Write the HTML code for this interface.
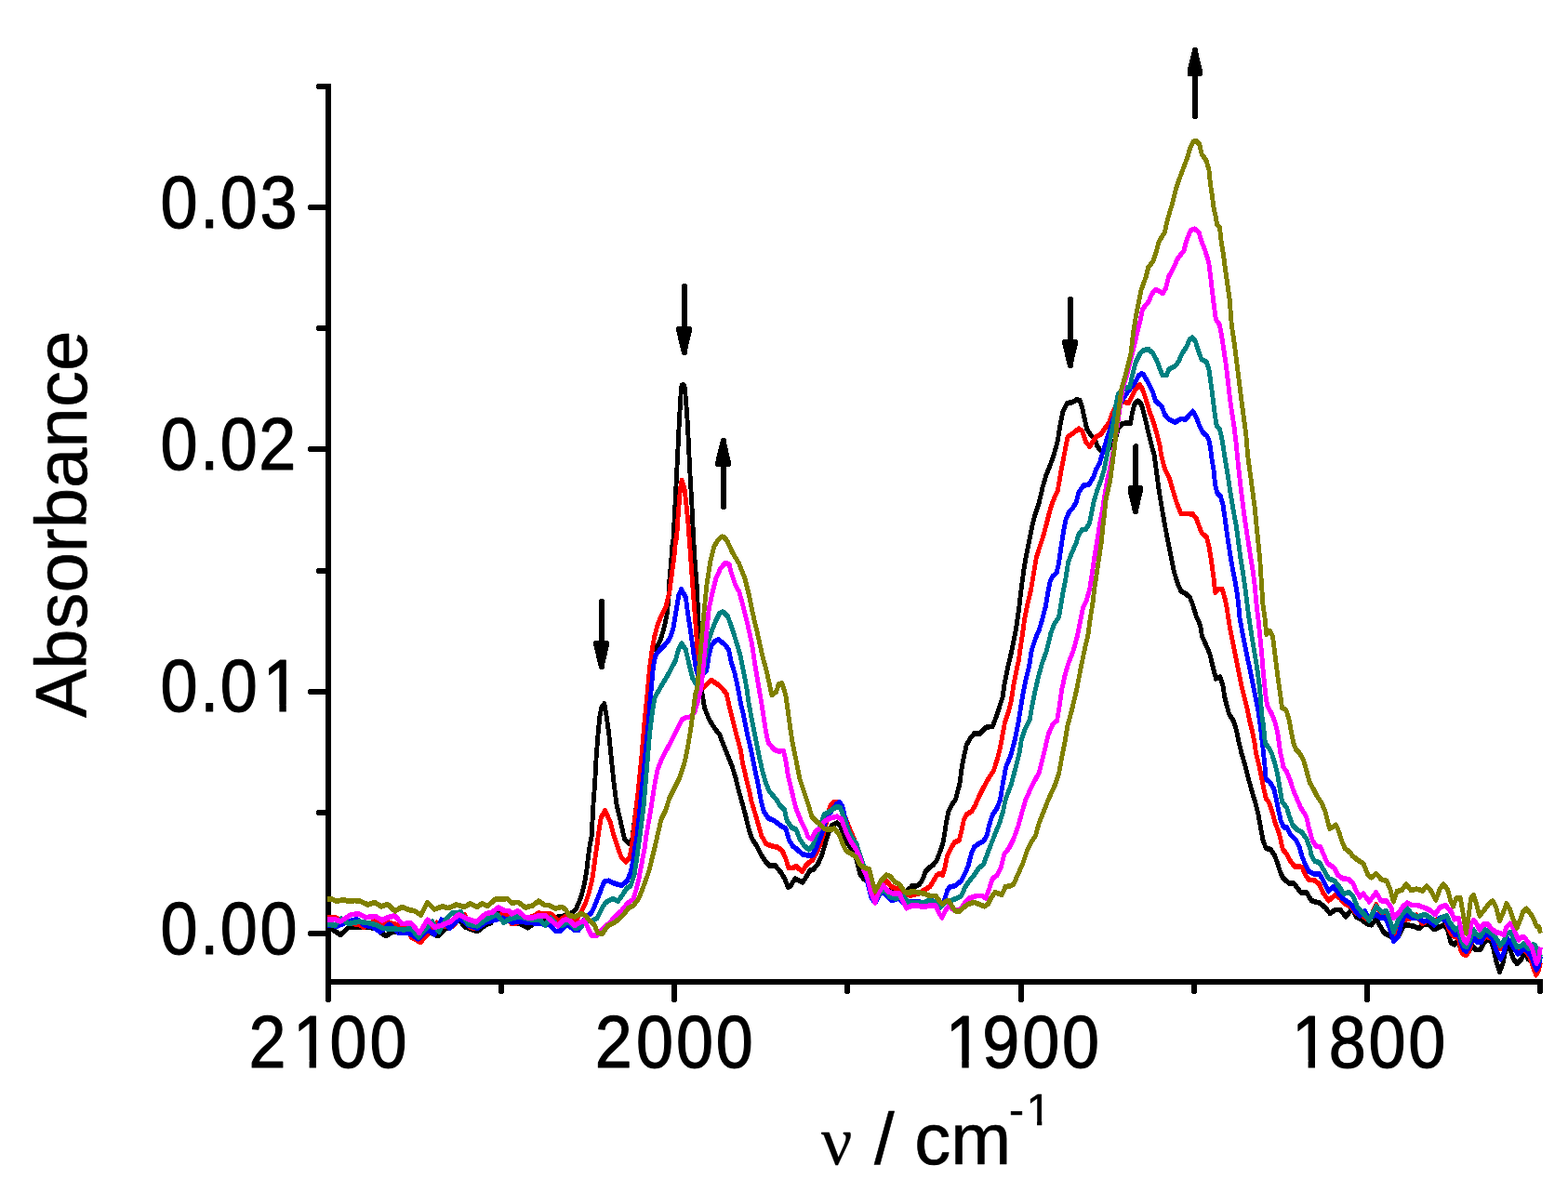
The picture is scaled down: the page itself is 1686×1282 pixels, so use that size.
<!DOCTYPE html>
<html lang="en"><head><meta charset="utf-8"><title>Absorbance spectrum</title>
<style>html,body{margin:0;padding:0;background:#fff;}body{width:1686px;height:1282px;overflow:hidden;}svg{display:block;}text{font-family:"Liberation Sans",Arial,Helvetica,sans-serif;fill:#000;stroke:#000;stroke-width:1.1px;stroke-linejoin:round;white-space:pre;}</style></head><body>
<svg width="1686" height="1282" viewBox="0 0 1686 1282">
<rect width="1686" height="1282" fill="#ffffff"/>
<g fill="#000" shape-rendering="crispEdges">
<rect x="350" y="90" width="6" height="980"/>
<rect x="350" y="1053" width="1309" height="6"/>
<rect x="331" y="1001" width="24" height="6" rx="2.4"/>
<rect x="340" y="871" width="15" height="6" rx="2.4"/>
<rect x="331" y="741" width="24" height="6" rx="2.4"/>
<rect x="340" y="611" width="15" height="6" rx="2.4"/>
<rect x="331" y="480" width="24" height="6" rx="2.4"/>
<rect x="340" y="350" width="15" height="6" rx="2.4"/>
<rect x="331" y="220" width="24" height="6" rx="2.4"/>
<rect x="340" y="90" width="15" height="6" rx="2.4"/>
<rect x="350" y="1053" width="6" height="25" rx="2.4"/>
<rect x="536" y="1053" width="6" height="16" rx="2.4"/>
<rect x="722" y="1053" width="6" height="25" rx="2.4"/>
<rect x="908" y="1053" width="6" height="16" rx="2.4"/>
<rect x="1095" y="1053" width="6" height="25" rx="2.4"/>
<rect x="1281" y="1053" width="6" height="16" rx="2.4"/>
<rect x="1467" y="1053" width="6" height="25" rx="2.4"/>
<rect x="1653" y="1053" width="6" height="16" rx="2.4"/>
</g>
<g transform="scale(0.85,1)" fill="none" stroke-width="5.7" stroke-linejoin="round" stroke-linecap="butt" shape-rendering="crispEdges">
<polyline stroke="#000000" points="414,996 420.59,999.8 430.82,1005.4 441.06,997.3 454.24,996.7 473.29,997.9 488,1006.6 496.71,1002.3 505.53,1001 517.29,998.5 523.18,1007.3 531.88,1012.2 543.65,1002.3 553.88,1006.6 564.12,998.5 572.94,994.8 580.24,988.6 587.65,996.7 603.76,1001.7 614,994.8 621.29,992.3 630.12,980.5 637.41,986.1 646.24,992.3 647.06,992.2 655.88,992.8 667.53,997.8 676.35,992.8 691.06,987.2 711.53,985.9 717.41,982.8 723.29,982.2 729.06,977.2 734.94,964.8 739.41,949.8 742.35,934.9 744.47,918.7 746.71,906.2 748.35,900 750.59,864.8 752.71,839.8 754.24,814.9 756.47,789.9 758.59,771.2 760.82,761.2 764.47,756.8 767.41,771.2 770.35,789.9 773.29,814.9 776.24,839.8 779.88,864.8 785.06,883.5 789.41,900 789.88,902.5 795.06,906.9 799.41,905 807.06,852.3 811.53,814.9 815.18,777.4 818.12,752.5 824.94,698.5 829.29,698.5 835.18,688.6 839.53,677.3 843.65,661.1 845.88,642.4 846.94,623.7 848.94,605 850.47,586.2 851.76,580 854.24,540.4 855.88,512.3 857.53,484.2 859.06,456.1 860,442.1 860.94,428.1 861.76,417.5 862.59,414.3 865.41,414.3 866.24,417.1 867.41,428.1 868.71,442.1 869.88,456.1 871.41,484.2 873.06,512.3 875.06,540.4 877.29,580 879.18,605 881.41,629.9 882.82,654.9 884.35,679.8 885.06,698.5 888.24,746.2 891.18,761.2 897.06,773.7 904.35,783.7 910.24,789.9 914.59,799.9 920.47,812.4 926.35,824.9 930.82,837.3 935.18,852.3 942.59,875 947.06,891.2 950.71,901.2 957.29,909.9 963.18,919.9 969.06,927.4 973.41,931.1 980.82,931.1 988.12,938.6 992.47,944.9 996.94,954.2 999.88,953 1005.76,944.9 1011.65,947.3 1015.29,949.2 1020.35,942.4 1024.82,936.1 1029.18,934.9 1035.06,928.6 1039.53,919.9 1043.88,907.4 1048.35,894.9 1052.71,887.5 1058.59,885 1062.94,888.7 1067.41,897.4 1071.76,906.2 1077.65,913.7 1082.12,919.9 1085.06,929.9 1087.88,939.9 1092.35,944.9 1096.71,947.3 1099.65,954.8 1102.59,963.6 1107.06,968.6 1114.35,959.8 1123.18,958.6 1130.47,957.3 1137.88,958.6 1146.71,958.6 1152.59,954.2 1152.94,953 1158.82,953 1163.18,951.1 1167.65,944.9 1170.59,937.4 1174.94,933.6 1180.82,929.9 1185.29,924.9 1189.65,914.9 1192.59,907.4 1194.82,897.4 1196.94,885 1199.88,872.5 1203.53,866.2 1208.71,860 1213.88,843.5 1216.82,824.8 1219.76,812.3 1222.71,801.1 1227.76,793.6 1232.94,788.6 1239.53,789.2 1246.94,782.4 1255.65,781.1 1260.12,771.1 1264.47,759.9 1268.24,749.9 1270.35,737.4 1273.29,725 1276.24,712.5 1279.88,700 1285.18,677.3 1288.94,654.8 1291.88,633.6 1294.82,614.9 1297.65,599.9 1302.12,581.2 1305.76,565 1310.24,551.2 1314.59,540 1319.06,523.5 1323.41,511 1329.29,498.5 1333.76,487.3 1338.12,473.6 1341.06,457.4 1344.71,442.4 1349.88,433.7 1357.18,432.4 1361.65,429.9 1366,430.5 1368.94,438.6 1371.88,449.9 1374.82,461.1 1379.29,467.3 1385.06,472.3 1388,479.8 1392.47,484.8 1398.35,486.1 1405.65,479.8 1411.53,471.1 1414.47,461.1 1418.82,456.1 1424.71,454.9 1429.88,455.5 1432.12,444.9 1435.06,434.9 1439.41,431.2 1443.88,434.9 1448.24,448.6 1452.59,464.9 1457.06,479.8 1460.24,490 1463.18,508.7 1466.12,527.4 1469.76,546.2 1473.53,564.9 1477.88,583.6 1481.53,599.8 1485.18,614.8 1489.65,627.3 1494,636 1499.88,638.5 1505.06,642.2 1508.71,650 1513.18,662.5 1518.35,672.5 1520.47,683.7 1524.94,692.4 1530.12,702.4 1532.94,712.4 1535.88,722.4 1538.12,729.9 1543.29,728 1546.94,737.3 1549.18,749.8 1552.12,759.8 1555.06,768.5 1560.12,774.8 1563.88,784.8 1566,793.5 1568.24,802.2 1570.47,810 1574.94,822.5 1579.29,837.5 1583.76,851.2 1588.12,863.7 1591.76,876.1 1594.71,889.9 1597.65,903.6 1601.41,912.3 1607.29,913.6 1612.35,919.8 1616,928.5 1619.76,938.5 1623.41,944.8 1630.71,949.8 1636.59,949.8 1641.06,954.7 1645.41,959.7 1647.06,959.9 1652.94,959.9 1658.82,968.6 1669.06,971.1 1676.35,976 1682.24,982.3 1689.53,978.5 1695.41,978.5 1702.71,986 1710.12,977.3 1715.88,986 1721.76,988.5 1729.06,993.5 1734.94,994.7 1740.82,988.5 1746.71,997.2 1751.06,1003.4 1756.94,1005.9 1762.82,1009.7 1768.71,1007.2 1774.59,997.2 1778.94,994.7 1787.76,996 1795.06,998.5 1802.35,993.5 1808.24,994.7 1814.12,999.7 1820,997.2 1827.29,994.7 1831.65,1001 1835.29,1013.9 1839.65,1015.8 1844.12,1012.1 1847.41,1019.6 1851.76,1024.2 1855.06,1026.1 1858.47,1022.4 1862.82,1017.7 1867.18,1021.4 1872.71,1021.4 1877.18,1013.9 1881.53,1011.1 1886,1012.1 1889.29,1020.5 1892.59,1033.6 1896.94,1045.3 1901.41,1035.5 1905.76,1016.8 1910.24,1021.4 1914.59,1031.7 1918.94,1036.4 1924.47,1031.7 1928.94,1024.2 1933.29,1031.7 1937.76,1033.6 1941.06,1041.1 1943.76,1045.8 1947.65,1041.1"/>
<polyline stroke="#ff0000" points="414,987.3 423.53,986.7 430.82,989.8 441.06,992.3 455.76,994.8 460.12,997.3 474.82,989.8 485.06,993.6 492.35,992.3 502.59,994.8 517.29,999.8 520.24,1007.9 531.88,1013.5 540.71,1004.8 552.47,992.3 558.24,996 572.94,996 578.82,989.8 587.65,983.6 594.94,997.3 602.24,998.5 614,987.3 624.24,986.1 636,983.6 641.76,984.2 647.06,993.4 651.41,993.4 661.76,989.7 676.35,984.7 680.71,982.2 691.06,982.8 698.35,983.4 706.35,990.9 714.47,985.9 723.29,987.8 729.06,989.7 734.94,981 740.82,971 745.18,959.8 749.65,943.6 752.59,924.9 755.53,907.5 756.47,900 760.12,879.8 765.18,871.6 771.88,883.5 776.94,900 781.88,912.5 786.24,922.4 791.41,926.8 796.47,922.4 799.41,910 800.47,900 807.06,852.3 811.53,814.9 815.18,777.4 818.12,752.5 819.53,740 822,717.3 824.94,698.5 827.88,684.8 832.24,671.1 836.59,662.4 842.47,652.4 846.94,636.2 849.88,617.4 852.82,598.7 854.94,580 855.88,580 857.88,554.4 860.47,526.3 862.47,516.5 865.76,524.9 867.88,540.4 870.35,561.4 872,580 874.12,605 876.24,629.9 878.47,654.9 880.71,679.8 882.12,698.5 883.29,711 886.59,741 890.94,738.5 899.76,731.6 908.59,736.6 913.18,740 919.06,746.2 923.41,762.5 927.88,777.4 932.24,792.4 936.71,806.1 939.53,821.1 944,837.3 948.35,852.3 950,860 954.35,872.5 958.71,885 963.18,898.7 969.06,907.4 976.35,909.9 983.76,911.2 989.53,914.9 994,923.6 997.65,933.6 1002.82,933.6 1007.18,931.7 1014.59,937.4 1020.35,929.9 1027.76,924.9 1033.65,916.2 1038,907.4 1042.47,894.9 1046.82,878.7 1049.76,867.5 1054.12,863.1 1060,863.1 1068.82,878.7 1079.18,899.9 1087.88,919.9 1093.76,934.9 1099.65,947.3 1105.53,962.3 1114.35,954.8 1121.65,947.3 1127.53,953.6 1134.94,956.1 1142.24,961.1 1151.06,962.9 1152.94,962.9 1161.76,961.1 1169.06,957.3 1176.47,953.6 1180.82,947.3 1185.29,941.1 1188.12,939.9 1192.59,941.1 1195.53,932.4 1198.47,919.9 1202.82,912.4 1207.29,906.2 1213.18,903.7 1216.12,894.9 1219.06,882.5 1222.71,876.2 1229.29,872.5 1233.65,866.2 1236.59,860 1244,847.2 1251.29,836 1257.18,828.5 1260.82,818.5 1264.47,807.3 1266.71,797.3 1268.94,787.3 1271.06,777.4 1275.53,766.1 1279.18,753.7 1282.12,737.4 1285.76,721.2 1288.71,710 1290.24,700 1293.29,683.5 1296.24,664.8 1299.88,649.8 1304.35,633.6 1308,614.9 1310.94,599.9 1314.59,589.9 1318.94,578.7 1323.41,565 1327.06,552.5 1331.41,540 1338.12,527.2 1342.59,504.8 1346.94,486.1 1350.59,469.8 1357.18,466.1 1364.59,461.1 1368.94,463.6 1373.41,474.8 1378.47,480.4 1383.65,473.6 1386.59,469.8 1392.47,467.3 1398.35,459.9 1402.71,454.9 1405.65,447.4 1410.12,439.9 1414.47,434.9 1420.35,432.4 1427.65,433 1432.12,426.2 1436.47,418.7 1441.65,413.7 1445.29,418.7 1449.76,429.9 1454.12,442.4 1458.47,452.4 1462.94,464.9 1467.29,479.8 1469.06,490 1472.71,502.5 1479.41,515 1483.76,527.4 1488.12,539.9 1494,552.4 1501.41,552.4 1508.71,553 1513.18,557.4 1517.53,567.4 1520.47,573.6 1526.35,577.3 1529.29,587.3 1532.24,602.3 1535.18,621 1537.29,637.2 1541.06,633.5 1546.12,633.5 1549.06,642.2 1551.29,650 1553.53,662.5 1555.76,675 1558.71,687.4 1561.65,699.9 1564.59,712.4 1567.53,724.9 1570.47,737.3 1574.12,749.8 1577.76,762.3 1580.71,774.8 1584.35,787.3 1587.29,799.7 1588.82,810 1592.59,822.5 1595.53,835 1598.47,847.4 1601.41,858.7 1605.76,863.7 1609.41,873.6 1613.06,884.9 1617.53,894.9 1620.47,904.8 1622.71,913.6 1627.76,918.6 1632.24,926 1638.12,932.3 1645.41,932.3 1647.06,932.5 1651.41,941.2 1655.88,946.2 1663.18,946.8 1669.06,951.1 1673.41,959.9 1680.71,968.6 1689.53,962.3 1695.41,966.1 1701.29,972.3 1708.59,974.8 1715.88,982.3 1723.29,984.8 1732,989.7 1740.82,972.9 1746.71,982.3 1752.59,984.8 1758.47,997.2 1762.82,1009.7 1768.71,999.7 1774.59,989.7 1780.35,988.5 1786.24,987.3 1792.12,984.1 1799.41,993.5 1805.29,989.7 1812.59,991 1820,988.5 1827.29,987.3 1833.18,999.7 1835.29,1003.7 1839.65,1007.4 1845.18,1008.3 1847.41,1020.5 1850.71,1026.1 1854.59,1027.5 1858.47,1023.3 1862.82,1010.2 1868.35,1011.1 1873.88,1012.1 1879.29,1007.4 1884.82,1008.3 1892.59,1014.9 1898.12,1020.5 1902.47,1016.8 1908,1012.1 1914.59,1016.8 1921.18,1022.4 1930,1022.4 1935.53,1029.9 1938.82,1039.2 1943.18,1048.6 1946.47,1043 1948.71,1035.5"/>
<polyline stroke="#0000ff" points="414,994.8 426.47,996 441.06,991.1 451.29,988.6 461.53,995.4 470.35,996 480.59,1002.3 492.35,994.2 504.12,1003.5 517.29,1003.5 528.94,1009.7 540.71,999.8 549.53,1004.8 558.24,989.2 568.59,998.5 577.29,991.1 581.76,987.3 592,994.8 603.76,998.5 614,992.3 624.24,989.8 636,987.3 646.24,991.1 647.06,992.2 655.88,990.9 669.06,992.2 683.65,993.4 695.41,994.7 702.71,1001.5 708.59,1001.5 717.41,993.4 726.24,1000.3 732,1000.3 740.82,985.9 748.12,982.2 752.59,973.5 758.47,961 764.24,948 770.12,947.3 776,949.8 786.24,952.3 793.53,947.3 798,937.4 800.94,924.9 803.06,912.5 805.65,900 810,864.8 814.47,827.3 817.29,802.4 820.24,777.4 822.47,752.5 824,740 826.35,717.3 829.29,704.8 835.18,698.5 841.06,693.6 846.94,687.3 851.29,677.3 855.76,654.9 858.71,639.9 861.88,633.7 867.41,642.4 870.35,661.1 874.82,686.1 877.76,704.8 880.71,721 885.06,729.7 893.88,721 896.82,704.8 899.76,694.8 904.12,689.8 908.59,687.9 915.88,692.3 921.76,698.5 924.71,711 929.18,723.5 933.53,740 936.71,755 941.06,771.2 945.41,789.9 949.88,806.1 954.24,824.9 958.71,842.3 962.47,860 966.12,872.5 972,880 979.29,882.5 986.59,887.5 994,891.2 998.35,903.7 1002.82,909.9 1008.71,913.7 1014.59,918.6 1021.88,919.9 1027.76,919.9 1033.65,909.9 1039.53,897.4 1043.88,885 1049.76,875 1057.06,866.2 1061.53,862.5 1065.88,867.5 1068.82,878.7 1073.29,892.4 1077.65,901.2 1083.53,907.4 1086.47,916.2 1090.82,927.4 1095.29,939.9 1098.24,952.3 1102.59,966.1 1107.06,971.1 1111.41,963.6 1115.88,958.6 1121.65,963.6 1127.53,968.6 1136.35,966.1 1143.76,972.3 1152.59,969.8 1152.94,970.4 1160.24,969.8 1169.06,971.1 1177.88,968.6 1186.71,971.1 1191.06,974.8 1195.53,966.1 1198.47,957.3 1201.41,954.2 1208.71,952.3 1216.12,947.3 1220.47,939.9 1224.82,931.1 1228.59,918.6 1232.24,911.2 1238.12,907.4 1244,904.9 1248.35,898.7 1251.29,887.5 1255.65,876.2 1261.53,868.7 1265.29,860 1268.94,841 1272.59,824.8 1279.18,811.1 1283.65,796.1 1288,778.6 1290.94,762.4 1293.88,747.4 1298.24,728.7 1302,716.2 1304.82,700 1310.24,686 1314.59,677.3 1318.94,664.8 1322.71,652.3 1325.65,637.3 1328.59,624.9 1331.41,619.9 1336.59,616.1 1339.53,604.9 1342.47,587.4 1345.41,571.2 1348.35,558.7 1352,551.2 1357.18,546.2 1361.53,540 1364.59,529.7 1370.47,522.3 1377.76,521 1383.65,512.3 1386.59,504.8 1390.94,498.5 1393.88,489.8 1398.35,477.3 1404.24,461.1 1408.59,449.9 1414.47,437.4 1421.76,427.4 1429.18,418.7 1435.06,412.4 1440.12,404.3 1444.59,401.8 1447.06,403.6 1452.94,412.4 1458.12,421.1 1461.76,431.1 1469.76,437.3 1473.53,446 1478.59,451 1486.71,454.2 1494,450.4 1499.88,451 1508.71,442.3 1513.18,448.5 1517.53,458.5 1521.18,464.8 1526.35,468.5 1529.29,473.5 1531.41,482.2 1532.24,490 1535.18,505 1537.29,521.2 1539.53,529.9 1544,533.7 1546.94,542.4 1549.76,558.6 1552.71,577.3 1555.65,593.6 1558.59,608.5 1562.35,624.8 1565.18,639.7 1566.71,650 1568.24,665 1571.88,681.2 1575.53,697.4 1579.29,712.4 1582.94,727.4 1585.88,739.8 1588.82,752.3 1591.76,764.8 1593.88,777.3 1596.12,793.5 1598.35,810 1599.88,822.5 1601.41,837.5 1607.29,842.4 1611.65,848.7 1614.59,859.9 1617.53,872.4 1620.47,883.6 1624.12,889.9 1627.76,889.9 1632.24,897.3 1639.53,903.6 1643.88,911.1 1647.06,921.2 1651.41,930 1655.88,937.4 1661.76,939.9 1669.06,939.9 1674.94,948.6 1680.71,958.6 1686.59,953.6 1692.47,959.9 1698.35,966.1 1708.59,972.3 1714.47,979.8 1720.35,984.8 1726.24,979.8 1732,987.3 1740.82,983.5 1746.71,987.3 1752.59,987.3 1758.47,999.7 1762.82,1012.2 1768.71,1007.2 1773.06,992.2 1777.41,983.5 1786.24,987.3 1793.53,987.3 1800.94,991 1806.82,989.7 1814.12,994.7 1821.41,987.3 1828.71,989.7 1834.59,998.5 1835.29,998 1840.82,1005.5 1845.18,1003.7 1848.47,1014.9 1851.76,1021.4 1855.06,1023.3 1859.53,1015.8 1863.88,1008.3 1868.35,1013 1873.88,1013 1878.24,1005.5 1882.71,1004.6 1887.06,1008.3 1892.59,1021.4 1898.12,1031.7 1902.47,1024.2 1906.82,1009.3 1911.29,1014.9 1915.65,1020.5 1920.12,1026.1 1925.65,1022.4 1928.94,1019.6 1933.29,1024.2 1937.76,1029.9 1941.06,1038.3 1943.76,1043 1946.47,1038.3 1948.71,1028.9"/>
<polyline stroke="#008080" points="414,993.6 423.53,995.4 431.53,988 441.06,993.6 454.24,991.1 467.41,992.9 476.24,994.8 485.06,998.5 499.65,999.2 511.41,999.8 520.24,998.5 528.94,1007.9 539.29,998.5 546.59,991.1 555.41,1002.3 564.12,988.6 571.53,982.3 583.18,981.1 592,993.6 603.76,996 615.41,988.6 628.59,983.6 637.41,992.3 646.24,987.3 647.06,987.8 655.88,985.9 664.59,987.2 673.41,989.1 683.65,989.7 689.53,995.3 696.82,987.2 705.65,995.9 712.94,994.7 718.82,990.9 727.65,998.4 734.94,997.1 740.82,990.9 749.65,990.3 755.53,987.2 761.29,977.2 765.76,971 774.59,966.6 781.88,969.1 787.76,962.3 792.12,956 798,952.3 802.35,941.1 805.29,924.9 808.24,906.2 809.29,900 814.47,864.8 818.12,827.3 821.76,789.9 825.41,765 828.35,750 834.94,740 844,727.2 854.24,711 858.71,697.3 862.35,692.3 867.41,698.5 871.88,714.8 876.24,729.7 880.71,736 885.06,737.2 889.53,723.5 892.47,704.8 895.41,692.3 899.76,679.8 905.65,667.3 910,659.9 914.47,658 920.35,662.4 926.24,676.1 932.12,692.3 936.47,704.8 940.82,723.5 944.59,740 946.94,755 951.29,774.9 955.76,793.7 960.12,812.4 964.59,829.8 968.94,842.3 973.29,851.1 982.24,860 986.59,866.2 992.47,871.2 995.41,882.5 1001.29,889.9 1007.18,892.4 1011.65,902.4 1017.53,909.9 1023.29,913.7 1027.76,909.9 1032.12,899.9 1038,887.5 1042.47,876.2 1049.76,872.5 1058.59,867.5 1062.94,868.7 1067.41,878.7 1073.29,892.4 1077.65,901.2 1083.53,907.4 1086.47,916.2 1090.82,927.4 1095.29,937.4 1099.65,952.3 1104.12,964.8 1108.47,966.1 1114.35,958.6 1120.24,958.6 1126.12,964.8 1133.41,966.1 1142.24,963.6 1148.12,969.8 1152.94,971.1 1167.65,971.1 1174.94,968.6 1182.35,969.8 1189.65,976 1194,971.1 1202.82,968.6 1210.24,966.1 1216.12,963.6 1220.47,954.8 1226.35,947.3 1232.24,941.1 1238.12,933.6 1244,929.9 1248.35,919.9 1252.82,909.9 1258.59,897.4 1264.47,885 1268.94,872.5 1271.88,860 1279.18,843.5 1285.06,824.8 1289.41,809.8 1292.35,794.8 1296.82,783.6 1302.71,773.6 1305.65,758.6 1309.29,743.7 1313.65,727.5 1318.12,713.7 1324,700 1329.29,681 1333.65,671 1339.53,663.5 1341.76,652.3 1344.71,637.3 1348.35,621.1 1351.29,604.9 1355.65,594.9 1361.53,583.7 1364.47,574.9 1368.94,569.9 1373.29,569.3 1377.76,563.7 1380.71,552.5 1383.53,540 1388,527.2 1392.47,517.3 1396.82,504.8 1399.76,492.3 1404.24,473.6 1408.59,454.9 1411.53,436.2 1414.47,423.7 1423.29,417.4 1429.18,416.2 1432.12,405 1436.47,390 1442.35,380 1446.82,376.6 1452.71,375.4 1452.94,376.2 1458.12,379.3 1463.18,387.4 1467.65,397.4 1470.59,403.6 1475.65,403.6 1478.59,397.4 1486.71,393.6 1491.06,388.6 1495.53,379.9 1500.59,373.7 1505.06,364.9 1508.71,363.1 1512.35,367.4 1516,377.4 1519.76,386.2 1526.35,389.3 1529.29,397.4 1531.41,409.9 1533.65,423.6 1535.88,439.8 1538.82,457.3 1543.18,462.3 1546.12,473.5 1549.06,490 1552.71,508.7 1556.47,529.9 1560.12,548.6 1563.76,564.9 1566.71,583.6 1569.65,602.3 1573.29,621 1576.24,639.7 1577.76,650 1580,665 1582.94,681.2 1586.59,699.9 1590.24,718.6 1593.18,737.3 1594.71,752.3 1596.12,768.5 1598.35,781 1600.47,799.7 1605.65,804.7 1608.59,810 1612.35,820 1616,832.5 1618.94,847.4 1621.88,862.4 1627.76,868.6 1630.71,877.4 1635.18,887.4 1641.06,892.4 1646.82,894.9 1652.71,902.3 1657.18,912.3 1658.82,920 1663.18,926.2 1669.06,927.5 1674.94,936.2 1680.71,944.9 1688.12,947.4 1694,953.6 1699.76,961.1 1707.18,959.9 1711.53,963.6 1717.41,976 1724.71,982.3 1732,989.7 1740.82,974.8 1748.12,981 1754,979.8 1758.47,989.7 1762.82,1002.2 1768.71,989.7 1774.59,982.3 1780.35,977.3 1786.24,983.5 1793.53,986 1802.35,983.5 1809.65,987.3 1817.06,992.2 1822.94,987.3 1830.24,984.8 1834.59,993.5 1835.29,993.4 1840.82,999.9 1845.18,998 1848.47,1010.2 1851.76,1016.8 1855.06,1018.6 1859.53,1011.1 1863.88,999.9 1867.18,1004.6 1872.71,1007.4 1878.24,999.9 1883.76,1001.8 1890.35,1006.5 1894.71,1012.1 1898.12,1016.8 1902.47,1012.1 1906.82,1003.7 1911.29,1002.7 1914.59,1011.1 1918.94,1018.6 1923.41,1017.7 1927.76,1014.9 1931.06,1018.6 1934.35,1020.5 1938.82,1015.8 1942.12,1016.8 1944.35,1022.4 1946.47,1033.6 1948.71,1026.1"/>
<polyline stroke="#ff00ff" points="414,989.2 423.53,988.6 430.82,991.1 444,983.6 454.24,983 463.06,986.7 474.82,985.5 483.53,989.8 490.94,986.7 499.65,984.8 508.47,993.6 520.24,992.9 530.47,1003.5 540.71,989.2 549.53,997.3 559.76,994.8 570,991.1 580.24,983.6 590.47,988 602.24,991.7 614,983 622.71,981.1 630.12,976.1 637.41,979.2 644.71,979.9 647.06,982.8 655.18,979.7 664.59,986.6 673.41,987.2 681.53,984.7 689.53,984.7 696.82,989.7 705.65,995.9 712.94,989.7 718.82,988.4 726.94,995.3 733.53,992.2 739.41,989.7 743.76,998.4 748.12,1005.9 755.53,1005.9 762.82,998.4 771.65,992.2 778.94,984.7 786.24,979.7 793.53,971.6 800.94,967.3 804.59,957.3 808.24,944.8 812.59,924.9 815.53,912.5 817.29,900 823.18,871 827.65,846.1 832,827.3 837.88,814.9 849.65,796.2 858.47,781.2 862.82,773.7 867.29,771.8 873.18,771.2 879.06,765 883.41,752.5 887.06,740 890.94,704.8 893.88,679.8 896.82,654.9 900.47,639.9 905.65,622.4 911.53,611.2 917.41,605.6 922.47,606.8 924.71,614.9 930.59,629.9 934.94,636.2 939.41,649.9 945.29,669.8 951.18,692.3 955.53,717.3 960,740 963.06,755 966,771.2 968.94,787.4 971.88,798.6 979.18,806.1 985.06,808 990.94,807.4 993.88,817.4 996.82,833.6 1001.29,849.8 1004.24,860 1007.18,870 1013.06,882.5 1018.94,892.4 1021.88,899.9 1026.24,902.4 1032.12,893.7 1036.59,891.2 1042.47,883.7 1049.76,880 1058.59,878.1 1064.47,881.2 1070.35,894.9 1076.24,904.9 1082.12,912.4 1087.88,922.4 1092.35,934.9 1096.71,942.4 1101.18,958.6 1107.06,971.1 1111.41,959.8 1117.29,952.3 1123.18,958.6 1130.47,961.1 1137.88,961.1 1143.76,972.3 1146.71,976.7 1152.94,974.2 1161.76,974.2 1167.65,975.4 1174.94,974.2 1183.76,974.2 1188.12,982.3 1191.88,986.7 1195.53,979.8 1199.88,974.8 1207.29,978.5 1214.59,978.5 1220.47,971.1 1226.35,966.1 1235.18,963.6 1242.47,963.6 1246.94,966.1 1251.29,956.1 1255.65,944.9 1261.53,941.1 1266,933.6 1270.35,918.6 1276.24,912.4 1282.12,902.4 1288,888.7 1292.35,875 1297.53,860 1305.65,844.7 1314.47,831 1318.12,818.5 1321.76,806.1 1326.12,789.8 1332,778.6 1337.18,774.9 1340.12,759.9 1343.06,742.4 1346.71,727.5 1351.88,712.5 1357.76,700 1363.06,683.5 1367.41,664.8 1369.65,654.8 1374.82,644.8 1378.47,633.6 1380.71,621.1 1382.82,608.6 1385.06,596.2 1388,581.2 1390.94,565 1393.88,552.5 1396.12,540 1400.47,517.3 1405.41,498.5 1409.76,479.8 1413.76,454.9 1417.06,436.2 1420.35,417.4 1425.06,405 1428.82,392.5 1432.35,380 1438.82,357.3 1442.47,344.8 1445.41,332.3 1452.71,324.8 1457.18,316.1 1461.53,311.7 1466,313 1471.06,315.5 1474.82,309.8 1478.47,297.4 1483.53,289.9 1489.41,278.6 1493.88,273.7 1497.53,269.9 1499.76,262.4 1502.71,254.9 1506.35,247.5 1511.41,246.2 1516.59,249.9 1519.53,258.7 1524.71,269.9 1529.06,282.4 1531.29,297.4 1533.53,313.6 1535.88,330 1538.12,343.7 1542.47,348.7 1545.41,361.2 1548.35,377.4 1551.29,394.9 1553.53,411.1 1555.65,427.3 1558.59,444.8 1561.53,461 1563.76,477.2 1565.18,490 1567.41,508.7 1570.35,529.9 1573.29,549.9 1576.24,567.4 1579.18,583.6 1582.12,599.8 1585.06,614.8 1587.29,629.8 1589.41,650 1591.76,666.2 1593.88,684.9 1596.12,702.4 1597.65,719.9 1599.76,737.3 1601.29,749.8 1603.41,759.8 1608.59,767.3 1613.06,777.3 1616,787.3 1618.12,799.7 1619.65,810 1621.88,817.5 1623.41,825 1627.76,830 1632.24,839.9 1636.59,851.2 1641.06,859.9 1645.41,868.6 1652.71,878.6 1655.65,889.9 1660.12,903.6 1664.47,909.8 1670.35,911.1 1674.94,920 1679.29,928.7 1688.12,933.7 1692.47,941.2 1698.35,944.9 1705.65,945.5 1711.53,949.9 1715.88,958.6 1720.35,964.8 1724.71,961.1 1732,969.8 1740.82,959.9 1746.71,968.6 1754,969.2 1759.88,976 1762.82,987.3 1768.71,982.3 1774.59,974.8 1780.35,971.1 1786.24,973.6 1793.53,973.6 1800.94,976 1808.24,978.5 1815.53,983.5 1821.41,976 1828.71,973.6 1834.59,979.8 1835.29,979.3 1839.65,988.7 1845.18,987.7 1848.47,1000.8 1851.76,1011.1 1855.06,1013.9 1858.47,1007.4 1861.18,993.4 1864.47,989.6 1868.35,994.3 1871.65,999.9 1876,994.3 1881.53,993.4 1887.06,999 1892.59,1002.7 1898.12,1003.7 1902.47,1005.5 1905.76,997.1 1910.24,993.4 1914.59,998 1917.88,1005.5 1921.18,1011.1 1924.47,1008.3 1928.94,1008.3 1933.29,1013.9 1937.76,1018.6 1941.06,1028.9 1943.76,1036.4 1946.47,1030.8 1948.71,1018.6"/>
<polyline stroke="#808000" points="414,966.8 418.35,966.8 426.47,969.3 433.76,967.6 441.06,969.3 448.35,968.6 455.76,969.3 465.29,973 474,970.5 482.12,974.9 490.12,972.4 499.65,979.9 508.47,975.5 517.29,978.6 524.59,979.9 532.71,984.2 540.71,970.5 549.53,978 559.76,974.9 567.06,976.7 577.29,973 587.65,975.5 594.94,971.8 603.76,975.5 609.53,971.8 616.94,974.3 627.18,966.8 634.47,967.4 641.76,966.4 647.06,971 655.88,970.4 664.59,976 673.41,974.1 681.53,969.1 688.82,973.5 694,973.5 702.71,977.2 710.12,975.4 715.18,977.8 720.35,984.7 727.65,985.9 734.94,982.8 740.82,984.7 746.71,990.9 751.88,994.7 756.24,1003.4 762.12,1004 768.71,995.9 776,992.8 783.29,988.4 789.18,983.4 795.06,976.6 800.94,974.1 806.82,967.9 811.18,959.8 815.53,949.8 820.71,937.4 825.06,922.4 828.71,910 831.29,900 836.47,881 842.35,871 846.71,858.5 852.59,848.6 859.88,836.1 865.76,821.1 870.24,802.4 873.88,783.7 876.82,765 879.76,746.2 882.12,740 885.76,704.8 889.53,667.3 893.88,629.9 898.35,605 903.41,587.5 908.59,580.6 911.53,578.1 914,577.3 916.82,578.3 920.35,582.5 926.24,593.7 934.94,606.2 942.35,622.4 947.53,639.9 952.59,661.1 958.47,682.3 964.35,704.8 970.24,723.5 976.24,747.5 982.12,743.7 984.94,736 989.29,734.7 993.88,747.5 996.82,765 999.76,783.7 1002.71,799.9 1007.06,817.4 1011.53,837.3 1017.41,852.3 1020.35,860 1023.29,867.5 1027.06,878.7 1035.06,885 1042.47,891.2 1049.76,892.4 1055.65,891.2 1061.53,897.4 1065.88,907.4 1070.35,914.9 1077.65,918.6 1083.53,922.4 1087.88,929.9 1093.76,933.6 1099.65,934.9 1102.59,944.9 1107.06,958.6 1114.35,947.3 1121.65,941.1 1126.12,942.4 1132,948.6 1137.88,951.1 1145.18,959.8 1152.59,959.8 1152.94,958.6 1161.76,959.8 1169.06,961.1 1176.47,963.6 1183.76,963.6 1188.12,968.6 1191.88,972.3 1195.53,969.8 1199.88,968.6 1204.35,974.8 1208.71,979.8 1213.18,980.4 1219.06,976 1224.82,972.3 1232.24,970.4 1238.12,972.3 1245.41,974.8 1249.88,972.3 1254.24,964.8 1258.59,959.8 1263.06,961.1 1267.41,962.3 1271.88,953.6 1277.76,953 1282.12,951.1 1288,939.9 1293.88,928.6 1299.76,913.7 1304.12,906.2 1310,898.7 1314.47,885 1320.35,872.5 1326.12,860 1334.94,843.5 1339.41,832.3 1342.35,818.5 1346.71,799.8 1350.35,781.1 1355.53,764.9 1361.41,743.7 1365.76,725 1368.71,712.5 1371.65,700 1376.24,683.5 1379.18,664.8 1382.12,649.8 1384.35,633.6 1387.29,617.4 1390.24,599.9 1393.18,583.7 1395.29,565 1397.53,550 1398.24,540 1404.24,517.3 1407.18,498.5 1410.12,479.8 1413.06,454.9 1416,436.2 1418.82,417.4 1423.29,405 1426.94,392.5 1430.59,380 1433.65,357.3 1437.29,338.5 1440.24,326.1 1443.88,311.1 1449.76,297.4 1452.71,287.4 1458.59,281.1 1463.06,269.9 1466,259.9 1473.29,249.9 1476.24,238.7 1479.88,227.5 1482.82,220 1487.29,204.2 1492.35,191.3 1497.41,179.9 1502.47,168.5 1505.76,158.5 1509.18,152.8 1512.82,151.4 1517.53,155.6 1520.12,165.6 1526,172.8 1529.29,182.8 1531.06,197.1 1533.53,211.3 1535.18,223 1537.88,232.5 1539.41,241.2 1543.06,245 1544.47,257.4 1547.41,272.4 1549.65,287.4 1552.59,304.9 1555.53,322.3 1557.88,348.7 1561.53,369.9 1564.47,389.9 1567.41,409.9 1570.35,429.8 1573.29,448.5 1576.24,467.3 1578.47,490 1581.41,508.7 1584.35,527.4 1587.29,546.2 1589.41,564.9 1591.65,583.6 1593.88,602.3 1595.29,621 1596.82,639.7 1597.53,650 1599.76,662.5 1601.29,675 1602,682.4 1606.35,678.7 1610.12,684.9 1612.24,699.9 1614.47,714.9 1616.71,729.9 1619.65,747.3 1621.76,761.1 1626.94,763.6 1630.59,773.5 1633.53,787.3 1636.47,799.7 1639.41,806 1643.88,810 1648.35,816.2 1652.71,828.7 1656.47,841.2 1661.53,848.7 1666,856.2 1671.88,863.7 1676.24,872.4 1679.88,884.9 1682.12,891.1 1690.24,887.4 1693.88,894.9 1697.53,904.8 1701.18,912.3 1708.59,917.3 1710.12,920 1717.41,925 1724.71,928.7 1730.59,941.2 1734.94,943.7 1740.82,939.9 1748.12,946.2 1754,947.4 1758.47,956.1 1762.82,969.8 1767.18,958.6 1773.06,957.4 1778.94,951.1 1784.82,957.4 1792.12,956.1 1799.41,958 1804.59,953 1809.65,957.4 1816.35,968 1821.41,956.1 1825.76,951.1 1830.94,956.1 1834.59,967.3 1835.29,970 1838.59,974.6 1841.88,966.2 1847.41,965.7 1850.71,982.1 1854.59,1003.7 1857.88,984.9 1860.59,966.2 1863.88,962.5 1867.18,970.9 1871.65,984.9 1877.18,979.3 1882.71,972.8 1888.12,969 1892.59,975.6 1896.94,990.5 1901.41,982.1 1905.76,971.8 1910.24,978.4 1914.59,989.6 1918.94,998 1923.41,988.7 1926.71,980.3 1931.06,977.4 1935.53,982.1 1939.88,987.7 1943.76,996.2 1947.06,997.1 1948.71,1003.7"/>
</g>
<g fill="#000" shape-rendering="crispEdges">
<rect x="644.05" y="644" width="6" height="47" rx="2.2"/><polygon points="653.45,689 654.85,690.3 654.85,694.8 649.65,716.5 649.75,718.6 648.35,720 645.75,720 644.35,718.6 643.65,716.5 638.45,694.8 638.45,690.3 639.85,689"/>
<rect x="733" y="305" width="6" height="47.9" rx="2.2"/><polygon points="742.4,350.9 743.8,352.2 743.8,356.7 738.6,378.4 738.7,380.5 737.3,381.9 734.7,381.9 733.3,380.5 732.6,378.4 727.4,356.7 727.4,352.2 728.8,350.9"/>
<rect x="775" y="499.9" width="6" height="48.1" rx="2.2"/><polygon points="784.4,501.9 785.8,500.6 785.8,496.1 780.6,474.4 780.7,472.3 779.3,470.9 776.7,470.9 775.3,472.3 774.6,474.4 769.4,496.1 769.4,500.6 770.8,501.9"/>
<rect x="1148" y="319" width="6" height="47.8" rx="2.2"/><polygon points="1157.4,364.8 1158.8,366.1 1158.8,370.6 1153.6,392.3 1153.7,394.4 1152.3,395.8 1149.7,395.8 1148.3,394.4 1147.6,392.3 1142.4,370.6 1142.4,366.1 1143.8,364.8"/>
<rect x="1218.2" y="477.3" width="6" height="47" rx="2.2"/><polygon points="1227.6,522.3 1229,523.6 1229,528.1 1223.8,549.8 1223.9,551.9 1222.5,553.3 1219.9,553.3 1218.5,551.9 1217.8,549.8 1212.6,528.1 1212.6,523.6 1214,522.3"/>
<rect x="1282.2" y="80" width="6" height="48" rx="2.2"/><polygon points="1291.6,82 1293,80.7 1293,76.2 1287.8,54.5 1287.9,52.4 1286.5,51 1283.9,51 1282.5,52.4 1281.8,54.5 1276.6,76.2 1276.6,80.7 1278,82"/>
</g>
<g>
<g transform="translate(171.6,1025.7)"><text transform="scale(0.935,1.032)" font-size="77" x="1.02 46.82 69.7 115.5" y="0">0.00</text></g>
<g transform="translate(171.6,765.37)"><text transform="scale(0.935,1.032)" font-size="77" x="1.02 46.82 69.7 118.92" y="0">0.01</text><rect x="114.17" y="-7.64" width="14.62" height="10.24" fill="#fff"/><rect x="136.16" y="-7.64" width="14.06" height="10.24" fill="#fff"/></g>
<g transform="translate(171.6,505.03)"><text transform="scale(0.935,1.032)" font-size="77" x="1.02 46.82 69.7 114" y="0">0.02</text></g>
<g transform="translate(171.6,244.7)"><text transform="scale(0.935,1.032)" font-size="77" x="1.02 46.82 69.7 115.5" y="0">0.03</text></g>
<g transform="translate(268,1147.9)"><text transform="scale(0.935,1.03)" font-size="77" x="-0.48 50.24 92.62 138.42" y="0">2100</text><rect x="49.96" y="-7.63" width="14.62" height="10.23" fill="#fff"/><rect x="71.94" y="-7.63" width="14.06" height="10.23" fill="#fff"/></g>
<g transform="translate(640.29,1147.9)"><text transform="scale(0.935,1.03)" font-size="77" x="-0.48 46.82 92.62 138.42" y="0">2000</text></g>
<g transform="translate(1012.57,1147.9)"><text transform="scale(0.935,1.03)" font-size="77" x="4.44 46.82 92.62 138.42" y="0">1900</text><rect x="7.13" y="-7.63" width="14.62" height="10.23" fill="#fff"/><rect x="29.12" y="-7.63" width="14.06" height="10.23" fill="#fff"/></g>
<g transform="translate(1384.86,1147.9)"><text transform="scale(0.935,1.03)" font-size="77" x="4.44 46.82 92.62 138.42" y="0">1800</text><rect x="7.13" y="-7.63" width="14.62" height="10.23" fill="#fff"/><rect x="29.12" y="-7.63" width="14.06" height="10.23" fill="#fff"/></g>
<g transform="translate(93,772) rotate(-90)"><text font-size="78" x="0 52.03 95.41 134.41 177.79 203.76 247.14 290.52 333.9 372.9" y="0" style="stroke-width:0.6px">Absorbance</text></g>
<text><tspan style="font-family:'Liberation Serif','DejaVu Serif',serif;stroke-width:0.3px" font-size="74" x="883" y="1252.2">ν</tspan><tspan style="stroke-width:0.6px" font-size="78" x="918.33 940 961.67 983.34 1022.34" y="1252.2"> / cm</tspan><tspan style="stroke-width:0.6px" font-size="48" x="1085 1103.49" y="1210">-1</tspan></text>
<rect x="1104.64" y="1204.71" width="10.41" height="7.89" fill="#fff"/>
<rect x="1120.3" y="1204.71" width="10.04" height="7.89" fill="#fff"/>
</g>
</svg></body></html>
